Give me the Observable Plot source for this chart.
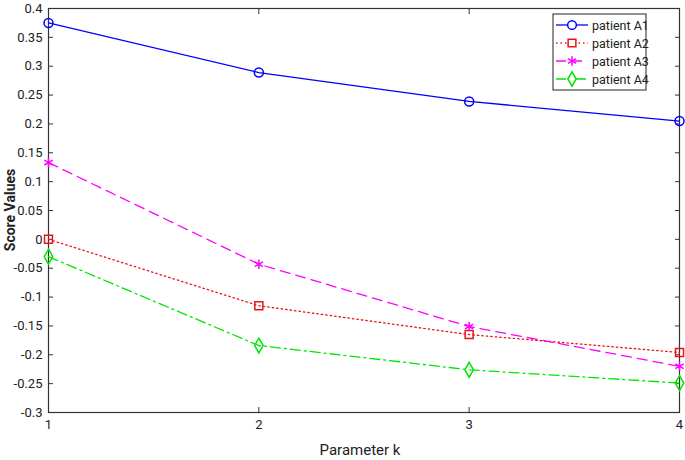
<!DOCTYPE html>
<html><head><meta charset="utf-8">
<script src="https://cdn.jsdelivr.net/npm/d3@7"></script>
<script src="https://cdn.jsdelivr.net/npm/@observablehq/plot@0.6"></script>
<style>
body{margin:0;background:#fff;}
#chart{position:relative;width:685px;height:460px;}
svg{font-family:Roboto,"Open Sans",sans-serif;}
</style></head><body><div id="chart"></div>
<script>
const ks = [1, 2, 3, 4];
const seriesNames = ["patient A1", "patient A2", "patient A3", "patient A4"];
const a1 = [0.375, 0.289, 0.239, 0.205];
const a2 = [0.0, -0.115, -0.165, -0.196];
const a3 = [0.133, -0.043, -0.151, -0.220];
const a4 = [-0.030, -0.184, -0.226, -0.249];
const yTicks = [-0.3,-0.25,-0.2,-0.15,-0.1,-0.05,0,0.05,0.1,0.15,0.2,0.25,0.3,0.35,0.4];
const colors = ["#0000ff", "#e8141b", "#ff00ff", "#00e600"];
const symbols = ["circle", "square", "asterisk", "diamond"];
const dashes = [null, "1.5,3", "10,6", "10,4,2,4"];

const allVals = [a1, a2, a3, a4];
const data = [];
seriesNames.forEach((s, i) => ks.forEach((k, j) => data.push({k, v: allVals[i][j], s, i})));

const marks = [];
seriesNames.forEach((s, i) => {
  const d = data.filter(r => r.i === i);
  marks.push(Plot.line(d, {x: "k", y: "v", stroke: colors[i], strokeWidth: 1.3, strokeDasharray: dashes[i]}));
  marks.push(Plot.dot(d, {x: "k", y: "v", stroke: colors[i], symbol: symbols[i], r: 4.5, strokeWidth: 1.5}));
});

const fmt = d => d === 0 ? "0" : String(+d.toFixed(2));
const plot = Plot.plot({
  width: 685, height: 460,
  marginLeft: 48, marginRight: 6, marginTop: 8, marginBottom: 48,
  style: {fontSize: "13px", color: "#222"},
  x: {domain: [1, 4]},
  y: {domain: [-0.3, 0.4]},
  marks: [
    Plot.axisX(ks, {tickSize: -5, tickPadding: 12, tickFormat: d => String(d), label: null, stroke: "#333"}),
    Plot.axisX(ks, {anchor: "top", tickSize: -5, tickFormat: () => "", label: null, stroke: "#333"}),
    Plot.axisY(yTicks, {tickSize: -5, tickPadding: 11, tickFormat: fmt, label: null, stroke: "#333"}),
    Plot.axisY(yTicks, {anchor: "right", tickSize: -5, tickFormat: () => "", label: null, stroke: "#333"}),
    Plot.frame({stroke: "#333", strokeWidth: 1.2}),
    ...marks
  ]
});
document.getElementById("chart").appendChild(plot);

const svg = d3.select(plot);
svg.append("text").attr("x", 360).attr("y", 455).attr("text-anchor", "middle")
  .attr("font-size", 15).attr("fill", "#222").text("Parameter k");
svg.append("text").attr("transform", "translate(15,210) rotate(-90)").attr("text-anchor", "middle")
  .attr("font-size", 14).attr("font-weight", "bold").attr("fill", "#222").text("Score Values");

// legend
const lg = svg.append("g").attr("transform", "translate(553,14)");
lg.append("rect").attr("width", 93).attr("height", 76).attr("fill", "#fff").attr("stroke", "#222");
const sym = {circle: d3.symbolCircle, square: d3.symbolSquare, asterisk: d3.symbolAsterisk, diamond: d3.symbolDiamond};
seriesNames.forEach((s, i) => {
  const y = 11 + i * 18;
  lg.append("line").attr("x1", 3).attr("x2", 35).attr("y1", y).attr("y2", y)
    .attr("stroke", colors[i]).attr("stroke-width", 1.3).attr("stroke-dasharray", dashes[i]);
  lg.append("path").attr("transform", `translate(19,${y})`).attr("d", d3.symbol(sym[symbols[i]], 60)())
    .attr("fill", "#fff").attr("stroke", colors[i]).attr("stroke-width", 1.5);
  lg.append("text").attr("x", 39).attr("y", y + 4.5).attr("text-anchor", "start")
    .attr("font-size", 12.5).attr("fill", "#222").text(s);
});
</script></body></html>
